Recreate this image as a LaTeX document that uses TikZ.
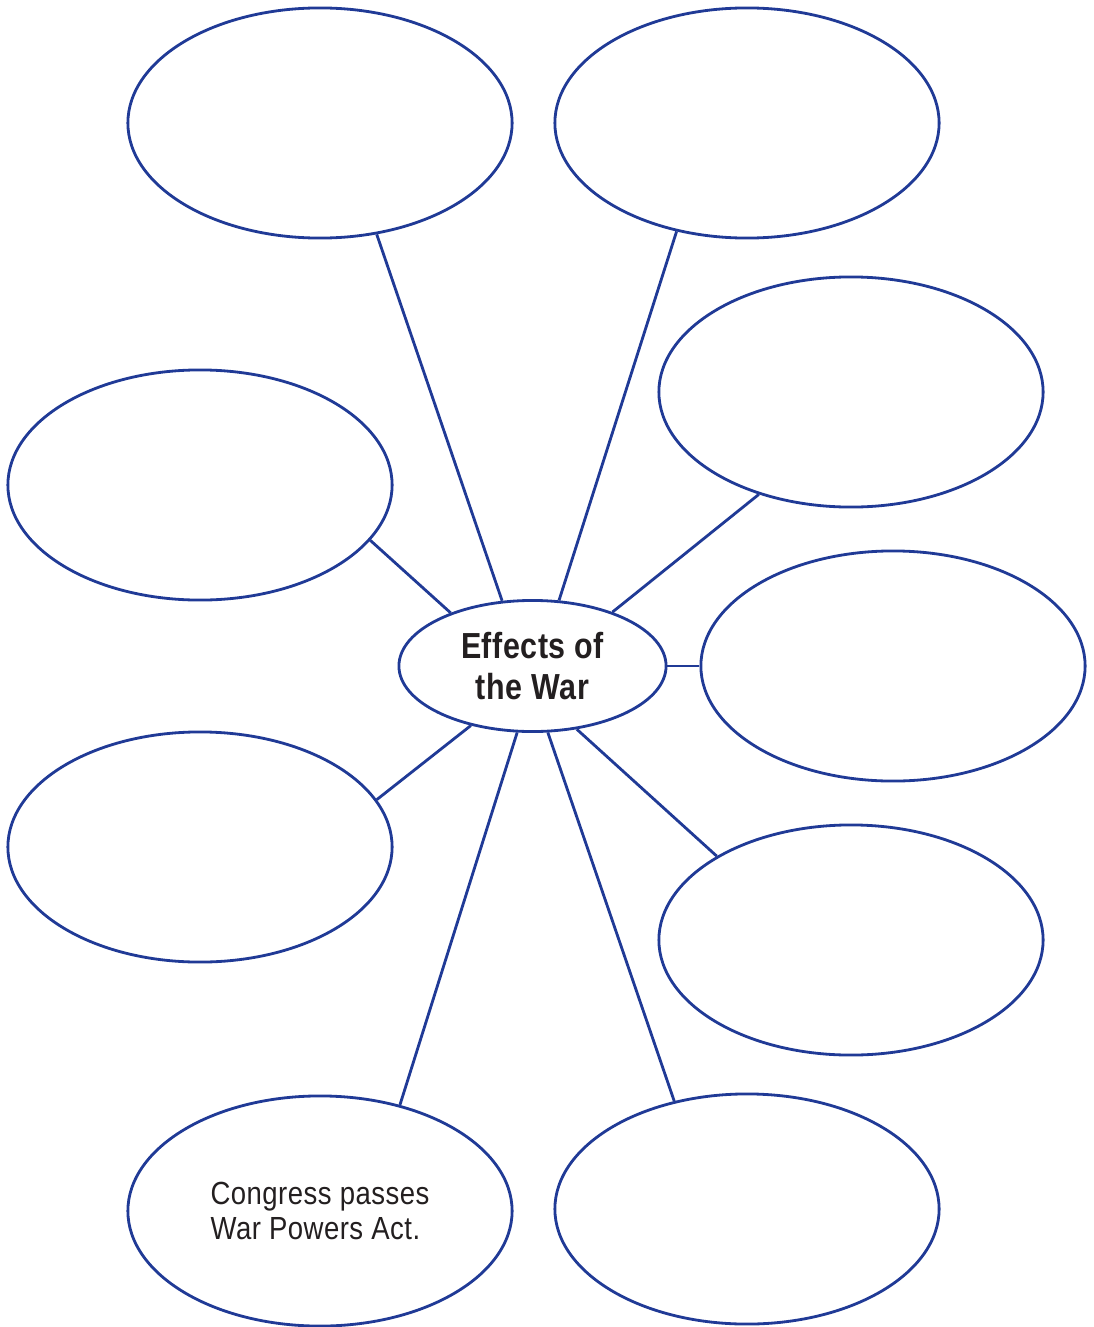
\documentclass[tikz,border=0pt]{standalone}
\usepackage{fontspec}
\usepackage{tikz}
\usetikzlibrary{shapes.geometric}
\newfontfamily\webfont[FakeStretch=0.86, LetterSpace=1.5]{Liberation Sans}
\newfontfamily\hubfont[FakeStretch=0.84, LetterSpace=1.5]{Liberation Sans Bold}
\definecolor{webblue}{RGB}{32,58,150}
\definecolor{webink}{RGB}{35,31,32}
\tikzset{
	bubble/.style={ellipse, draw=webblue, line width=0.8pt, inner sep=0pt,
		minimum width=3.84cm, minimum height=2.30cm, text=webink},
	hub/.style={bubble, minimum width=2.67cm, minimum height=1.31cm,
		font=\hubfont\fontsize{10.3}{11.7}\selectfont, align=center},
	spoke/.style={draw=webblue, line width=0.8pt}
}

\begin{document}
\begin{tikzpicture}[x=0.01cm, y=-0.01cm]
		%%%%% START %%%%%
		
		\useasboundingbox (0, 0) rectangle (1093, 1327);
		
		\node[hub] (hub) at (532.5, 666) {Effects of\\the War};
		
		\node[bubble] (topL) at (320, 123) {};
		\node[bubble] (topR) at (747, 123) {};
		\node[bubble] (upR) at (851, 392) {};
		\node[bubble] (upL) at (200, 485) {};
		\node[bubble] (midR) at (893, 666) {};
		\node[bubble] (lowL) at (200, 847) {};
		\node[bubble] (lowR) at (851, 940) {};
		\node[bubble, align=left, font=\webfont\fontsize{9.1}{9.7}\selectfont] (botL) at (320, 1211) {Congress passes\\War Powers Act.};
		\node[bubble] (botR) at (747, 1209) {};
		
		\draw[spoke] (hub.115.5) -- (topL.-63);
		\draw[spoke] (hub.68.3) -- (topR.-123.9);
		\draw[spoke] (hub.34.5) -- (upR.-132.9);
		\draw[spoke] (hub.147.9) -- (upL.-18.7);
		\draw[spoke] (hub.0) -- (midR.180);
		\draw[spoke] (hub.-136.2) -- (lowL.15);
		\draw[spoke] (hub.-55.2) -- (lowR.148);
		\draw[spoke] (hub.-103.2) -- (botL.53);
		\draw[spoke] (hub.-77.6) -- (botR.124.6);
		
		%%%%% END %%%%%
	\end{tikzpicture}
\end{document}
